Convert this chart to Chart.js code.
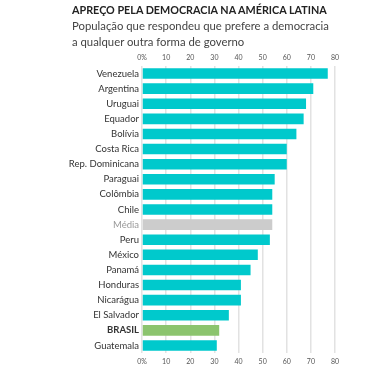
<!DOCTYPE html>
<html>
<head>
<meta charset="utf-8">
<script src="https://cdn.jsdelivr.net/npm/chart.js@4.4.0/dist/chart.umd.min.js"></script>
<style>
    body { margin: 0; background: #fff; }
    #wrap { position: relative; width: 365px; height: 365px; }
    #title { position: absolute; left: 72px; top: -2px; font-family: Lato, sans-serif; white-space: nowrap; }
    #title h1 { margin: 0; font-size: 12.5px; font-weight: bold; color: #222; line-height: 15px; display: inline-block; }
    #title p { margin: 1px 0 0 0; font-size: 13px; color: #444; line-height: 16px; }
    #title span { display: inline-block; }
    canvas { position: absolute; left: 0; top: 0; }
</style>
</head>
<body>
<div id="wrap">
    <canvas id="chart" width="365" height="365"></canvas>
    <div id="title">
        <h1 id="t1">APREÇO PELA DEMOCRACIA NA AMÉRICA LATINA</h1>
        <p><span id="t2">População que respondeu que prefere a democracia</span><br>a qualquer outra forma de governo</p>
    </div>
</div>
<script>
const countries = ["Venezuela", "Argentina", "Uruguai", "Equador", "Bolívia", "Costa Rica",
    "Rep. Dominicana", "Paraguai", "Colômbia", "Chile", "Média", "Peru", "México", "Panamá",
    "Honduras", "Nicarágua", "El Salvador", "BRASIL", "Guatemala"];
const values = [77, 71, 68, 67, 64, 60, 60, 55, 54, 54, 54, 53, 48, 45, 41, 41, 36, 32, 31];
const axisMax = 80;

const teal = "#00c9cc";
const gray = "#cccccc";
const green = "#8cc46e";

// fit title widths to the reference
function fit(id, target) {
    let el = document.getElementById(id);
    let size = parseFloat(getComputedStyle(el).fontSize);
    let w = el.getBoundingClientRect().width;
    let p = el.tagName === "H1" ? el : el.parentNode;
    p.style.fontSize = (size * target / w).toFixed(2) + "px";
}
fit("t1", 255);
fit("t2", 257);

let colors = countries.map(c => c === "Média" ? gray : (c === "BRASIL" ? green : teal));

function pct(v) { return v === 0 ? "0%" : v; }

let tickFont = { family: "Lato", size: 7 };

let ctx = document.getElementById('chart').getContext('2d');
let chart = new Chart(ctx, {
    type: 'bar',
    data: {
        labels: countries,
        datasets: [{
            data: values,
            backgroundColor: colors,
            borderWidth: 0,
            barPercentage: 0.7,
            categoryPercentage: 1,
            xAxisID: 'x'
        }]
    },
    options: {
        indexAxis: 'y',
        responsive: false,
        animation: false,
        layout: { padding: { top: 0, right: 30, bottom: 0, left: 0 } },
        plugins: { legend: { display: false }, tooltip: { enabled: false } },
        scales: {
            x: {
                position: 'bottom',
                min: 0, max: axisMax,
                ticks: { stepSize: 10, callback: pct, color: "#555", padding: 5, font: tickFont },
                grid: { color: "#e2e2e2", lineWidth: 1.5, drawTicks: false },
                border: { display: false },
                afterFit: (s) => { s.height = 12; }
            },
            x2: {
                position: 'top',
                min: 0, max: axisMax,
                ticks: { stepSize: 10, callback: pct, color: "#555", padding: 4, font: tickFont },
                grid: { display: false, drawTicks: false },
                border: { display: false },
                afterFit: (s) => { s.height = 66; }
            },
            y: {
                ticks: {
                    autoSkip: false,
                    padding: 3,
                    font: (c) => ({ family: "Lato", size: 9.5, weight: c.index === 17 ? "bold" : "normal" }),
                    color: (c) => c.index === 10 ? "#999" : "#333"
                },
                grid: { display: false, drawTicks: false },
                border: { display: false },
                afterFit: (s) => { s.width = 142; }
            }
        }
    }
});
</script>
</body>
</html>
